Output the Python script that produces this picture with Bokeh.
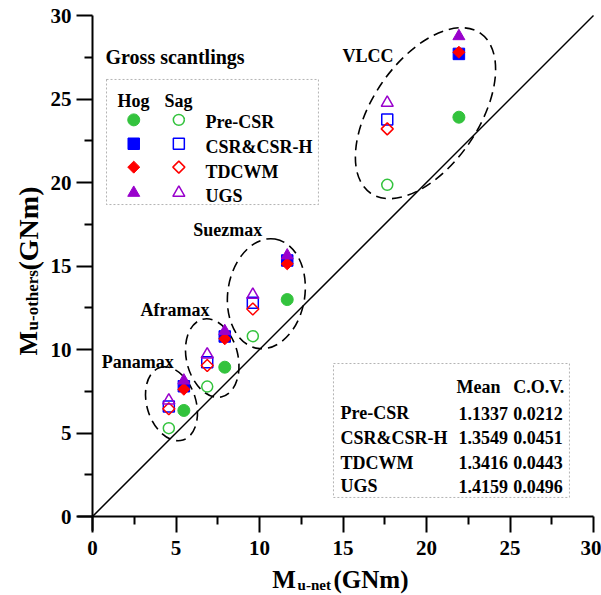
from bokeh.plotting import figure
from bokeh.models import FixedTicker, Label, BoxAnnotation
from bokeh.embed import file_html
from bokeh.resources import INLINE

# ---------------- data ----------------
ships = ["Panamax", "Aframax", "Suezmax", "VLCC"]
hog_net = [5.47, 7.92, 11.66, 21.94]
sag_net = [4.57, 6.87, 9.60, 17.65]
hog_precsr = [6.35, 8.94, 12.99, 23.91]
hog_csr = [7.80, 10.78, 15.33, 27.70]
hog_tdcwm = [7.62, 10.64, 15.13, 27.80]
hog_ugs = [8.14, 11.10, 15.63, 28.76]
sag_precsr = [5.29, 7.78, 10.80, 19.86]
sag_csr = [6.59, 9.24, 12.80, 23.77]
sag_tdcwm = [6.45, 9.04, 12.43, 23.21]
sag_ugs = [6.95, 9.70, 13.27, 24.77]
methods = ["Pre-CSR", "CSR&CSR-H", "TDCWM", "UGS"]
mean_vals = ["1.1337", "1.3549", "1.3416", "1.4159"]
cov_vals = ["0.0212", "0.0451", "0.0443", "0.0496"]
major_ticks = [0, 5, 10, 15, 20, 25, 30]
minor_ticks = [2.5, 7.5, 12.5, 17.5, 22.5, 27.5]

# group ellipses: centre x, centre y, major, minor, angle (deg)
ell_x = [4.73, 7.17, 10.41, 19.94]
ell_y = [6.75, 9.49, 13.34, 24.15]
ell_w = [4.55, 4.78, 6.63, 11.62]
ell_h = [2.93, 3.08, 4.61, 6.35]
ell_a = [107.6, 104.0, 81.0, 55.6]

GREEN = "#33c33d"
BLUE = "#0000ff"
RED = "#ff0000"
PURPLE = "#9900cc"
FONT = "Liberation Serif"

K = 16.7          # pixels per data unit
OX, OY = 92, 516  # pixel position of the origin
W, H = 601, 595

p = figure(width=W, height=H,
           x_range=(-OX / K, (W - OX) / K), y_range=(-(H - OY) / K, OY / K),
           output_backend="svg", toolbar_location=None,
           min_border_left=0, min_border_right=0, min_border_top=0, min_border_bottom=0)
p.outline_line_color = None
p.grid.visible = False
p.background_fill_color = "white"
p.border_fill_color = "white"

for ax in (p.xaxis[0], p.yaxis[0]):
    ax.ticker = FixedTicker(ticks=major_ticks, minor_ticks=minor_ticks)
    ax.fixed_location = 0
    ax.axis_line_color = None
    ax.major_tick_line_width = 2
    ax.minor_tick_line_width = 2
    ax.major_tick_in = 0
    ax.major_tick_out = 16
    ax.minor_tick_in = 0
    ax.minor_tick_out = 8
    ax.major_label_text_font = FONT
    ax.major_label_text_font_style = "bold"
    ax.major_label_text_font_size = "21px"
    ax.major_label_text_color = "black"
p.xaxis.major_label_standoff = 8
p.yaxis.major_label_standoff = 5

# axis lines (extend a little past the origin, as in the original)
p.segment(x0=[-0.9, 0], y0=[0, -0.85], x1=[30, 0], y1=[0, 30],
          line_color="black", line_width=2)

# diagonal y = x
p.line([0, 30], [0, 30], line_color="black", line_width=1.5)

# group ellipses
p.ellipse(ell_x, ell_y, width=ell_w, height=ell_h, angle=ell_a, angle_units="deg",
          fill_color=None, line_color="black", line_width=1.6, line_dash="10 6")

def open_marks(xs, ys, marker, color, size, angle=0.0):
    p.scatter(xs, ys, marker=marker, size=size, angle=angle, angle_units="deg",
              fill_color=None, line_color=color, line_width=1.5)

def filled_marks(xs, ys, marker, color, size, angle=0.0):
    p.scatter(xs, ys, marker=marker, size=size, angle=angle, angle_units="deg",
              fill_color=color, line_color=color, line_width=1)

# Sag (open)
open_marks(sag_net, sag_precsr, "circle", GREEN, 11)
open_marks(sag_net, sag_csr, "square", BLUE, 11)
open_marks(sag_net, sag_tdcwm, "square", RED, 8.5, 45)
open_marks(sag_net, sag_ugs, "triangle", PURPLE, 12)
# Hog (filled)
filled_marks(hog_net, hog_precsr, "circle", GREEN, 12)
filled_marks(hog_net, hog_csr, "square", BLUE, 11.5)
filled_marks(hog_net, hog_tdcwm, "square", RED, 8.5, 45)
filled_marks(hog_net, hog_ugs, "triangle", PURPLE, 12)

def lab(x, y, text, size="18px", align="left", angle=0.0):
    p.add_layout(Label(x=x, y=y, text=text, text_font=FONT, text_font_style="bold",
                       text_font_size=size, text_align=align, text_baseline="alphabetic",
                       text_color="black", angle=angle, angle_units="deg"))

# ship group labels
lab(14.97, 27.57, ships[3])
lab(6.03, 17.17, ships[2])
lab(2.87, 12.34, ships[1])
lab(0.56, 9.24, ships[0])

# legend
lab(0.78, 27.49, "Gross scantlings", "20px")
p.add_layout(BoxAnnotation(left=0.84, right=13.53, bottom=18.68, top=26.17,
                           fill_alpha=0, line_color="black", line_width=1, line_dash="2 2"))
lab(1.5, 24.9, "Hog")
lab(4.31, 24.9, "Sag")
leg_rows = [23.75, 22.32, 20.92, 19.38]
hog_x = [2.47] * 4
sag_x = [5.17] * 4
filled_marks(hog_x[0:1], leg_rows[0:1], "circle", GREEN, 12)
open_marks(sag_x[0:1], leg_rows[0:1], "circle", GREEN, 11)
filled_marks(hog_x[1:2], leg_rows[1:2], "square", BLUE, 11.5)
open_marks(sag_x[1:2], leg_rows[1:2], "square", BLUE, 11)
filled_marks(hog_x[2:3], leg_rows[2:3], "square", RED, 8.5, 45)
open_marks(sag_x[2:3], leg_rows[2:3], "square", RED, 8.5, 45)
filled_marks(hog_x[3:4], leg_rows[3:4], "triangle", PURPLE, 12)
open_marks(sag_x[3:4], leg_rows[3:4], "triangle", PURPLE, 12)
for yy, m in zip([23.63, 22.1, 20.63, 19.18], methods):
    lab(6.77, yy, m)

# statistics table
p.add_layout(BoxAnnotation(left=14.43, right=28.56, bottom=1.14, top=9.16,
                           fill_alpha=0, line_color="black", line_width=1, line_dash="2 2"))
lab(21.8, 7.74, "Mean")
lab(25.19, 7.74, "C.O.V.")
for yy, m, mv, cv in zip([6.17, 4.73, 3.23, 1.8], methods, mean_vals, cov_vals):
    lab(14.85, yy, m)
    lab(21.92, yy, mv)
    lab(25.2, yy, cv)

# axis titles (M with subscript)
lab(10.76, -3.80, "M", "25px")
lab(12.28, -4.10, "u-net", "15px")
lab(14.43, -3.80, "(GNm)", "25px")
lab(-3.83, 9.64, "M", "26px", angle=90)
lab(-3.60, 11.14, "u-others", "17px", angle=90)
lab(-3.83, 14.73, "(GNm)", "28px", angle=90)

open("out.html", "w").write(file_html(p, INLINE))
